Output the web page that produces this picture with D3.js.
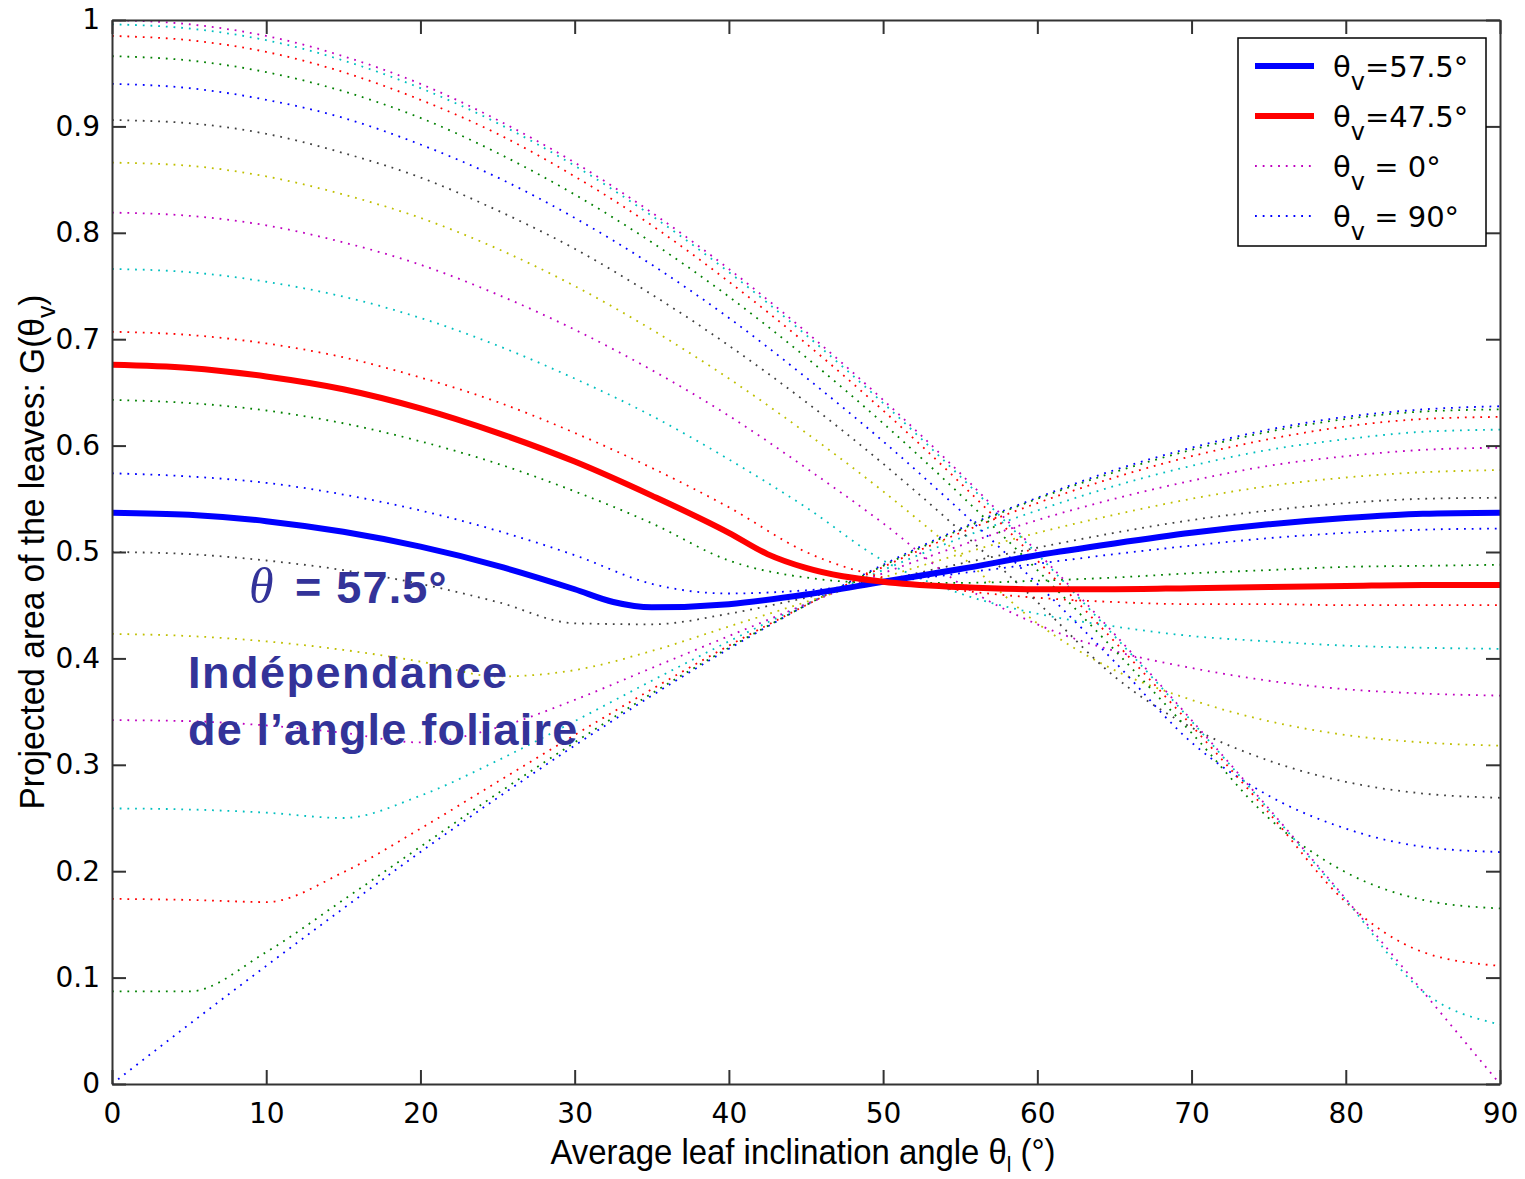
<!DOCTYPE html>
<html>
<head>
<meta charset="utf-8">
<script src="https://cdn.jsdelivr.net/npm/d3@7"></script>
<style>
  html, body { margin: 0; padding: 0; background: #ffffff; }
  svg { display: block; }
</style>
</head>
<body>
<svg id="chart" width="1525" height="1179"></svg>
<script>
// ---------------- DATA ----------------
// x: average leaf inclination angle (deg)
const thetaL = [0,5,10,15,20,25,30,35,40,45,50,55,60,65,70,75,80,85,90];
const xTicks = [0,10,20,30,40,50,60,70,80,90];
const yTicks = [0,0.1,0.2,0.3,0.4,0.5,0.6,0.7,0.8,0.9,1];

// dotted curves, one per view angle
const viewAngles = [90,85,80,75,70,65,60,55,50,45,40,35,30,25,20,15,10,5,0];
const dotColors  = ["#0000ff","#008000","#ff0000","#00bfbf","#bf00bf","#bfbf00","#404040"];

const g0  = [1.000,0.996,0.985,0.966,0.940,0.906,0.866,0.819,0.766,0.707,0.643,0.574,0.500,0.423,0.342,0.259,0.174,0.087,0.000];
const g5  = [0.996,0.992,0.981,0.962,0.936,0.903,0.863,0.816,0.763,0.704,0.640,0.571,0.498,0.421,0.341,0.258,0.173,0.087,0.056];
const g10 = [0.985,0.981,0.970,0.951,0.925,0.893,0.853,0.807,0.754,0.696,0.633,0.565,0.492,0.416,0.337,0.255,0.171,0.124,0.111];
const g15 = [0.966,0.962,0.951,0.933,0.908,0.875,0.836,0.791,0.740,0.683,0.621,0.554,0.483,0.408,0.330,0.250,0.199,0.173,0.165];
const g20 = [0.940,0.936,0.925,0.908,0.883,0.852,0.814,0.770,0.720,0.664,0.604,0.539,0.470,0.397,0.321,0.271,0.240,0.223,0.218];
const g25 = [0.906,0.903,0.893,0.875,0.852,0.821,0.785,0.742,0.694,0.641,0.583,0.520,0.453,0.383,0.335,0.304,0.284,0.273,0.269];
const g30 = [0.866,0.863,0.853,0.836,0.814,0.785,0.750,0.709,0.663,0.612,0.557,0.497,0.433,0.389,0.361,0.341,0.328,0.321,0.318];
const g35 = [0.819,0.816,0.807,0.791,0.770,0.742,0.709,0.671,0.628,0.579,0.527,0.470,0.432,0.407,0.391,0.379,0.371,0.367,0.365];
const g40 = [0.766,0.763,0.754,0.740,0.720,0.694,0.663,0.628,0.587,0.542,0.492,0.461,0.442,0.430,0.421,0.416,0.412,0.410,0.409];
const g45 = [0.707,0.704,0.696,0.683,0.664,0.641,0.612,0.579,0.542,0.500,0.476,0.464,0.457,0.453,0.451,0.451,0.450,0.450,0.450];
const g50 = [0.643,0.640,0.633,0.621,0.604,0.583,0.557,0.527,0.492,0.476,0.471,0.471,0.473,0.476,0.480,0.483,0.486,0.487,0.488];
const g55 = [0.574,0.571,0.565,0.554,0.539,0.520,0.497,0.470,0.461,0.464,0.471,0.480,0.489,0.498,0.506,0.513,0.518,0.521,0.522];
const g60 = [0.500,0.498,0.492,0.483,0.470,0.453,0.433,0.432,0.442,0.457,0.473,0.489,0.504,0.518,0.530,0.539,0.546,0.550,0.551];
const g65 = [0.423,0.421,0.416,0.408,0.397,0.383,0.389,0.407,0.430,0.453,0.476,0.498,0.518,0.535,0.550,0.562,0.570,0.575,0.577];
const g70 = [0.342,0.341,0.337,0.330,0.321,0.335,0.361,0.391,0.421,0.451,0.480,0.506,0.530,0.550,0.567,0.581,0.590,0.596,0.598];
const g75 = [0.259,0.258,0.255,0.250,0.271,0.304,0.341,0.379,0.416,0.451,0.483,0.513,0.539,0.562,0.581,0.596,0.606,0.613,0.615];
const g80 = [0.174,0.173,0.171,0.199,0.240,0.284,0.328,0.371,0.412,0.450,0.486,0.518,0.546,0.570,0.590,0.606,0.618,0.625,0.627];
const g85 = [0.087,0.087,0.124,0.173,0.223,0.273,0.321,0.367,0.410,0.450,0.487,0.521,0.550,0.575,0.596,0.613,0.625,0.632,0.634];
const g90 = [0.000,0.056,0.111,0.165,0.218,0.269,0.318,0.365,0.409,0.450,0.488,0.522,0.551,0.577,0.598,0.615,0.627,0.634,0.637];

// thick curves
const thetaL47 = [0,5,10,15,20,25,30,35,40,42.5,45,50,55,60,65,70,75,80,85,90];
const g47_5    = [0.676,0.673,0.665,0.653,0.635,0.612,0.585,0.553,0.518,0.498,0.485,0.472,0.467,0.465,0.465,0.466,0.467,0.468,0.469,0.469];
const thetaL57 = [0,5,10,15,20,25,30,32.5,35,40,45,50,55,60,65,70,75,80,85,90];
const g57_5    = [0.537,0.535,0.529,0.519,0.505,0.487,0.465,0.453,0.448,0.451,0.460,0.472,0.484,0.497,0.508,0.518,0.526,0.532,0.536,0.537];

const legendLabels = ["57.5°","47.5°","0°","90°"];

// ---------------- DRAWING ----------------
const dotted = {90:g90,85:g85,80:g80,75:g75,70:g70,65:g65,60:g60,55:g55,50:g50,45:g45,
                40:g40,35:g35,30:g30,25:g25,20:g20,15:g15,10:g10,5:g5,0:g0};

const svg = d3.select("#chart");
const X0 = 112, X1 = 1500, Y0 = 1084, Y1 = 20;
const x = d3.scaleLinear().domain([0, 90]).range([X0, X1]);
const y = d3.scaleLinear().domain([0, 1]).range([Y0, Y1]);
const tickFont = "'DejaVu Sans', sans-serif";

svg.append("defs").append("clipPath").attr("id", "plotclip")
  .append("rect").attr("x", X0).attr("y", Y1).attr("width", X1 - X0).attr("height", Y0 - Y1);

const plot = svg.append("g").attr("clip-path", "url(#plotclip)");

const lineGen = d3.line()
  .x(d => x(d[0])).y(d => y(d[1]))
  .curve(d3.curveMonotoneX);

viewAngles.forEach((v, i) => {
  const vals = dotted[v];
  const pts = thetaL.map((t, j) => [t, vals[j]]);
  plot.append("path")
    .attr("d", lineGen(pts))
    .attr("fill", "none")
    .attr("stroke", dotColors[i % dotColors.length])
    .attr("stroke-width", 1.8)
    .attr("stroke-dasharray", "1.8,5.9");
});

plot.append("path")
  .attr("d", lineGen(thetaL57.map((t, j) => [t, g57_5[j]])))
  .attr("fill", "none").attr("stroke", "#0000ff").attr("stroke-width", 6)
  .attr("stroke-linejoin", "round");
plot.append("path")
  .attr("d", lineGen(thetaL47.map((t, j) => [t, g47_5[j]])))
  .attr("fill", "none").attr("stroke", "#ff0000").attr("stroke-width", 6)
  .attr("stroke-linejoin", "round");

// ---------------- AXES ----------------
function styleAxis(g) {
  g.select(".domain").attr("stroke", "#333").attr("stroke-width", 2);
  g.selectAll(".tick line").attr("stroke", "#333").attr("stroke-width", 2);
  g.selectAll(".tick text").attr("fill", "#000").attr("font-family", tickFont).attr("font-size", 28);
}
const axB = svg.append("g").attr("transform", `translate(0,${Y0})`)
  .call(d3.axisBottom(x).tickValues(xTicks).tickSizeInner(-14).tickSizeOuter(0).tickPadding(19).tickFormat(d3.format("d")));
styleAxis(axB);
const axT = svg.append("g").attr("transform", `translate(0,${Y1})`)
  .call(d3.axisTop(x).tickValues(xTicks).tickSizeInner(-14).tickSizeOuter(0).tickFormat(""));
styleAxis(axT);
const axL = svg.append("g").attr("transform", `translate(${X0},0)`)
  .call(d3.axisLeft(y).tickValues(yTicks).tickSizeInner(-14).tickSizeOuter(0).tickPadding(12)
    .tickFormat(d => (d === 0 ? "0" : d === 1 ? "1" : d.toFixed(1))));
styleAxis(axL);
const axR = svg.append("g").attr("transform", `translate(${X1},0)`)
  .call(d3.axisRight(y).tickValues(yTicks).tickSizeInner(-14).tickSizeOuter(0).tickFormat(""));
styleAxis(axR);

// axis titles
const xt = svg.append("text")
  .attr("x", 803).attr("y", 1164).attr("text-anchor", "middle")
  .attr("font-family", "'Liberation Sans', Arial, sans-serif").attr("font-size", 35)
  .attr("textLength", 505).attr("lengthAdjust", "spacingAndGlyphs").attr("fill", "#000");
xt.append("tspan").text("Average leaf inclination angle θ");
xt.append("tspan").attr("dy", 8).attr("font-size", 22).text("l");
xt.append("tspan").attr("dy", -8).text(" (°)");

const yt = svg.append("text")
  .attr("transform", "translate(44,552) rotate(-90)").attr("text-anchor", "middle")
  .attr("font-family", "'Liberation Sans', Arial, sans-serif").attr("font-size", 35)
  .attr("textLength", 515).attr("lengthAdjust", "spacingAndGlyphs").attr("fill", "#000");
yt.append("tspan").text("Projected area of the leaves: G(θ");
yt.append("tspan").attr("dy", 11).attr("font-size", 26).text("v");
yt.append("tspan").attr("dy", -11).text(")");

// ---------------- LEGEND ----------------
const leg = svg.append("g");
leg.append("rect").attr("x", 1238).attr("y", 38).attr("width", 248).attr("height", 208)
  .attr("fill", "#fff").attr("stroke", "#000").attr("stroke-width", 1.5);
const legStyles = [
  {color: "#0000ff", w: 6, dash: null, sep: "="},
  {color: "#ff0000", w: 6, dash: null, sep: "="},
  {color: "#bf00bf", w: 1.8, dash: "1.8,5.9", sep: " = "},
  {color: "#0000ff", w: 1.8, dash: "1.8,5.9", sep: " = "}
];
legendLabels.forEach((lab, i) => {
  const yb = 77 + i * 50;
  const s = legStyles[i];
  const ln = leg.append("line").attr("x1", 1255).attr("x2", 1314)
    .attr("y1", yb - 11).attr("y2", yb - 11)
    .attr("stroke", s.color).attr("stroke-width", s.w);
  if (s.dash) ln.attr("stroke-dasharray", s.dash);
  const t = leg.append("text").attr("x", 1333).attr("y", yb)
    .attr("font-family", tickFont).attr("font-size", 29).attr("fill", "#000");
  t.append("tspan").text("θ");
  t.append("tspan").attr("dy", 13).attr("font-size", 24).text("v");
  t.append("tspan").attr("dy", -13).text(s.sep + lab);
});

// ---------------- ANNOTATIONS ----------------
const annColor = "#333399";
svg.append("text").attr("x", 249).attr("y", 603)
  .attr("font-family", "'Liberation Serif', 'Times New Roman', serif")
  .attr("font-style", "italic").attr("font-size", 50).attr("fill", annColor).text("θ");
svg.append("text").attr("x", 295).attr("y", 603)
  .attr("font-family", "'Liberation Sans', Arial, sans-serif").attr("font-weight", "bold")
  .attr("font-size", 45).attr("letter-spacing", 1.2).attr("fill", annColor).text("= 57.5°");
svg.append("text").attr("x", 188).attr("y", 688)
  .attr("font-family", "'Liberation Sans', Arial, sans-serif").attr("font-weight", "bold")
  .attr("font-size", 45).attr("letter-spacing", 1.5).attr("fill", annColor).text("Indépendance");
svg.append("text").attr("x", 188).attr("y", 745)
  .attr("font-family", "'Liberation Sans', Arial, sans-serif").attr("font-weight", "bold")
  .attr("font-size", 45).attr("letter-spacing", 1.2).attr("fill", annColor).text("de l’angle foliaire");
</script>
</body>
</html>
